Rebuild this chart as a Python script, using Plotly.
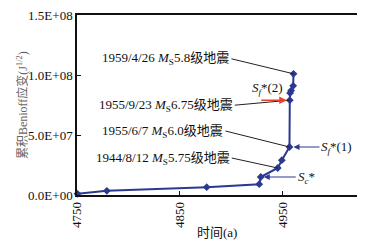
import plotly.graph_objects as go

# Data
time_a = [4750.5, 4779, 4876, 4927, 4928.5, 4945, 4949, 4956.4, 4956.7, 4957, 4958, 4960, 4960.3]
benioff = [1.0e6, 3.5e6, 6.5e6, 9.0e6, 1.5e7, 2.25e7, 2.9e7, 4.0e7, 7.9e7, 8.5e7, 8.7e7, 9.1e7, 1.01e8]
x_ticks = [4750, 4850, 4950]
y_ticks = [0, 5e7, 1e8, 1.5e8]
y_ticktext = ["0.0E+00", "5.0E+07", "1.0E+08", "1.5E+08"]

# Labelled events: (index of point, label)
quake_idx = [12, 8, 7, 5]
quake_text = [
    "1959/4/26 <i>M</i><sub>S</sub>5.8级地震",
    "1955/9/23 <i>M</i><sub>S</sub>6.75级地震",
    "1955/6/7 <i>M</i><sub>S</sub>6.0级地震",
    "1944/8/12 <i>M</i><sub>S</sub>5.75级地震",
]
x_title = "时间(a)"
y_title = "累积Benioff应变(J<sup>1/2</sup>)"

FONT = "Liberation Serif, Times New Roman, Noto Sans CJK SC, serif"
NAVY = "#2B3990"

fig = go.Figure()
fig.add_trace(go.Scatter(
    x=time_a, y=benioff, mode="lines+markers",
    line=dict(color=NAVY, width=2),
    marker=dict(symbol="diamond", size=6, color=NAVY),
    cliponaxis=False, showlegend=False,
))

offsets = [(-62, -15), (-55, 5), (-64, -16), (-46, -10)]
anns = []
for i, txt, (ax, ay) in zip(quake_idx, quake_text, offsets):
    anns.append(dict(
        x=time_a[i], y=benioff[i], xref="x", yref="y",
        text=txt, showarrow=True, arrowhead=0, arrowwidth=1, arrowcolor="#222",
        ax=ax, ay=ay, xanchor="right", standoff=0,
        font=dict(family=FONT, size=13, color="#111"),
    ))

# S_f*(2): red arrow with text above
anns.append(dict(x=time_a[8], y=benioff[8], xref="x", yref="y", text="",
                 showarrow=True, arrowhead=2, arrowsize=1, arrowwidth=1.5,
                 arrowcolor="#E8402A", ax=-30, ay=0, standoff=3))
anns.append(dict(x=time_a[8], y=benioff[8], xref="x", yref="y",
                 text="<i>S</i><sub><i>f</i></sub>*(2)", showarrow=False,
                 xshift=-22, yshift=12,
                 font=dict(family=FONT, size=13, color="#111")))
# S_f*(1)
anns.append(dict(x=time_a[7], y=benioff[7], xref="x", yref="y",
                 text="<i>S</i><sub><i>f</i></sub>*(1)", showarrow=True,
                 arrowhead=2, arrowsize=1, arrowwidth=1.2, arrowcolor=NAVY,
                 ax=30, ay=0, xanchor="left", standoff=4,
                 font=dict(family=FONT, size=13, color="#111")))
# S_c*
anns.append(dict(x=time_a[4], y=benioff[4], xref="x", yref="y",
                 text="<i>S</i><sub><i>c</i></sub>*", showarrow=True,
                 arrowhead=2, arrowsize=1, arrowwidth=1.2, arrowcolor=NAVY,
                 ax=35, ay=0, xanchor="left", standoff=3,
                 font=dict(family=FONT, size=13, color="#111")))
# axis titles
anns.append(dict(x=0.5, y=-0.21, xref="paper", yref="paper", yanchor="middle",
                 text=x_title, showarrow=False,
                 font=dict(family=FONT, size=13, color="#111")))
anns.append(dict(x=-0.23, y=0.5, xref="paper", yref="paper", textangle=-90,
                 text=y_title, showarrow=False,
                 font=dict(family=FONT, size=12, color="#666")))

# page body has an 8px margin: size the figure so the plot lands where it should
fig.update_layout(
    width=349, height=234,
    margin=dict(l=69, r=0, t=7, b=47, autoexpand=False),
    paper_bgcolor="white", plot_bgcolor="white",
    font=dict(family=FONT, size=13, color="#111"),
    annotations=anns,
    xaxis=dict(
        range=[4750, 5022], tickvals=x_ticks, ticktext=[str(v) for v in x_ticks],
        tickangle=-90, ticks="inside", ticklen=4, tickcolor="#111",
        showline=True, linecolor="#111", linewidth=1.5, mirror=True,
        showgrid=False, zeroline=False, automargin=False,
        ticklabeloverflow="allow",
    ),
    yaxis=dict(
        range=[0, 1.5e8], tickvals=y_ticks, ticktext=y_ticktext,
        ticks="inside", ticklen=4, tickcolor="#111",
        showline=True, linecolor="#111", linewidth=1.5, mirror=True,
        showgrid=False, zeroline=False, automargin=False,
        ticklabeloverflow="allow",
    ),
)

fig.write_html("out.html")
